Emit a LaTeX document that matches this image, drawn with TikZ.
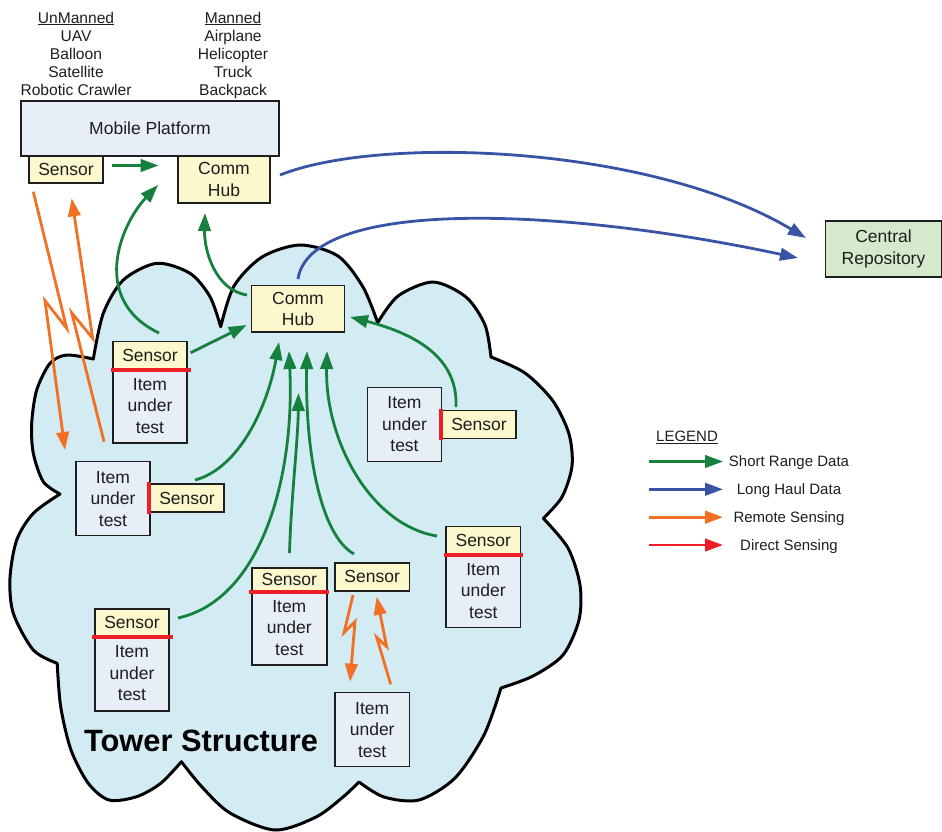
\documentclass[tikz,border=0pt]{standalone}
\usepackage{fontspec}
\setmainfont{Liberation Sans}
\usetikzlibrary{arrows.meta,calc}
\definecolor{cloudfill}{RGB}{211,235,243}
\definecolor{itemfill}{RGB}{231,238,247}
\definecolor{sensfill}{RGB}{251,248,205}
\definecolor{repofill}{RGB}{213,233,204}
\definecolor{grn}{RGB}{22,128,62}
\definecolor{blu}{RGB}{58,84,165}
\definecolor{org}{RGB}{242,112,35}
\definecolor{rdd}{RGB}{236,30,38}
\definecolor{ink}{RGB}{30,30,30}
\begin{document}
\begin{tikzpicture}[x=1pt,y=-1pt,
  txt/.style={font=\fontsize{17.5}{21.5}\selectfont, text=ink, align=center, inner sep=0pt},
  toptxt/.style={font=\fontsize{15.6}{18}\selectfont, text=ink, inner sep=0pt, anchor=base},
  legtxt/.style={font=\fontsize{15}{17}\selectfont, text=ink, inner sep=0pt, anchor=base},
  box/.style={txt, draw=ink, line width=1.5pt, minimum width=74pt},
  sens/.style={box, fill=sensfill, minimum height=27.5pt},
  itembox/.style={box, fill=itemfill, minimum height=74pt},
  conn/.style={line width=2.8pt, -{Triangle[length=18pt,width=12.5pt]}},
  shortr/.style={conn, draw=grn},
  longh/.style={conn, draw=blu},
  remote/.style={conn, draw=org, line join=miter},
  direct/.style={draw=rdd, line width=4pt},
  cloud/.style={fill=cloudfill, draw=black, line width=3pt, line join=round}
]
\useasboundingbox (0,0) rectangle (942,831);

% cloud
\filldraw[cloud]
 plot[smooth] coordinates {(220.7,326.7) (234,286) (262,257) (300,245) (338,256) (363,287) (377.7,322.7)}
 -- plot[smooth] coordinates {(377.7,322.7) (398,296) (433,282) (466,297) (485,325) (491,357)}
 -- plot[smooth] coordinates {(491,357) (525,373) (553,401) (569,434) (572,466) (562,497) (543.3,518.3)}
 -- plot[smooth] coordinates {(543.3,518.3) (568,548) (580,585) (579,620) (563,655) (533,676) (501,688)}
 -- plot[smooth] coordinates {(501,688) (484,735) (455,778) (419,800) (384,797) (359,782)}
 -- plot[smooth] coordinates {(359,782) (343,797) (316,817) (275,830) (230,813) (202,787) (181.4,761.7)}
 -- plot[smooth] coordinates {(181.4,761.7) (160.7,783.3) (136.6,796.7) (109,800) (88.3,783.3) (71,750) (60.7,706.7) (57.2,663.3)}
 -- plot[smooth] coordinates {(57.2,663.3) (33.3,650) (13.3,613.3) (10,578) (16.7,540) (33.3,513.3) (60,494)}
 -- plot[smooth] coordinates {(60,494) (43.3,481.7) (33.3,453.3) (31.7,423.3) (36.7,390) (50,363.3) (66.7,355) (93.3,359)}
 -- plot[smooth] coordinates {(93.3,359) (103.3,313.3) (123.3,280) (156.7,263.3) (190,273.3) (210,296.7) (220.7,326.7)}
 -- cycle;

% top texts
\node[toptxt] (un0) at (76,23) {\underline{UnManned}};
\node[toptxt] (un1) at (76,41.5) {UAV};
\node[toptxt] (un2) at (76,59.8) {Balloon};
\node[toptxt] (un3) at (76,77.8) {Satellite};
\node[toptxt] (un4) at (76,95.8) {Robotic Crawler};
\node[toptxt] (ma0) at (233,23) {\underline{Manned}};
\node[toptxt] (ma1) at (233,41.5) {Airplane};
\node[toptxt] (ma2) at (233,59.8) {Helicopter};
\node[toptxt] (ma3) at (233,77.8) {Truck};
\node[toptxt] (ma4) at (233,95.8) {Backpack};

% nodes
\node[box, fill=itemfill, minimum width=258pt, minimum height=55pt] (mp) at (150,128.5) {Mobile Platform};
\node[sens, minimum height=27pt] (s0) at (66,169.5) {Sensor};
\node[box, fill=sensfill, minimum width=92pt, minimum height=47pt] (ch0) at (224,179.5) {Comm\\Hub};
\node[box, fill=repofill, minimum width=116pt, minimum height=56pt] (cr) at (883.5,249) {Central\\Repository};
\node[box, fill=sensfill, minimum width=92.6pt, minimum height=46.3pt] (ch1) at (298,308.8) {Comm\\Hub};

\node[sens, minimum height=27.3pt] (s1) at (150,355.3) {Sensor};
\node[itembox, minimum height=74.3pt] (i1) at (150,405.9) {Item\\under\\test};
\node[itembox] (i2) at (113,498.7) {Item\\under\\test};
\node[sens, minimum height=28pt] (s2) at (187,498) {Sensor};
\node[itembox] (i3) at (404.5,424.5) {Item\\under\\test};
\node[sens, minimum height=27.6pt] (s3) at (479,424.5) {Sensor};
\node[sens, minimum width=74.7pt, minimum height=27.3pt] (s4) at (483.3,540.3) {Sensor};
\node[itembox, minimum width=74.7pt, minimum height=73.3pt] (i4) at (483.3,590.7) {Item\\under\\test};
\node[sens, minimum height=27pt] (s5) at (132,622.5) {Sensor};
\node[itembox, minimum height=75pt] (i5) at (132,673.5) {Item\\under\\test};
\node[sens, minimum width=75pt, minimum height=23.3pt] (s6) at (289.3,579.4) {Sensor};
\node[itembox, minimum width=75pt] (i6) at (289.3,628) {Item\\under\\test};
\node[sens, minimum width=74.3pt, minimum height=28.3pt] (s7) at (372.2,576.9) {Sensor};
\node[itembox, minimum width=74.3pt] (i7) at (372.2,729.7) {Item\\under\\test};

\node[font=\bfseries\fontsize{30.8}{34}\selectfont, text=black, inner sep=0pt, anchor=base] (tower) at (201,751) {Tower Structure};

% direct sensing marks
\draw[direct] ([xshift=-1pt]s1.south west) -- ([xshift=3pt]s1.south east);
\draw[direct] ([yshift=1pt]s2.north west) -- ([yshift=-1pt]s2.south west);
\draw[direct] ([yshift=1pt]s3.north west) -- ([yshift=-1pt]s3.south west);
\draw[direct] ([xshift=-1.5pt]s4.south west) -- ([xshift=1.5pt]s4.south east);
\draw[direct] ([xshift=-2pt]s5.south west) -- ([xshift=3pt]s5.south east);
\draw[direct] ([xshift=-2pt]s6.south west) -- ([xshift=1pt]s6.south east);

% connector end points
\coordinate (g1a) at (112,165.5); \coordinate (g1b) at (158.5,165.5);
\coordinate (g2a) at (159,333);   \coordinate (g2b) at (158,185);
\coordinate (g3a) at (247,295);   \coordinate (g3b) at (205,213);
\coordinate (g4a) at (190.7,352.7); \coordinate (g4b) at (246.7,325);
\coordinate (g5a) at (195,480);   \coordinate (g5b) at (279,342);
\coordinate (g6a) at (178,618);   \coordinate (g6b) at (289,351);
\coordinate (g7a) at (289.5,553); \coordinate (g7b) at (298.5,393);
\coordinate (g8a) at (354,554);   \coordinate (g8b) at (307,351);
\coordinate (g9a) at (437,536);   \coordinate (g9b) at (327,351);
\coordinate (g10a) at (456,407);  \coordinate (g10b) at (350,317);
\coordinate (b1a) at (280,175);   \coordinate (b1b) at (806,238);
\coordinate (b2a) at (298,279);   \coordinate (b2b) at (798,258);
\coordinate (o1a) at (33.3,191.7); \coordinate (o1b) at (65,450);
\coordinate (o2a) at (104,441.7); \coordinate (o2b) at (71.7,198.3);
\coordinate (o3a) at (353,595);   \coordinate (o3b) at (350,681.7);
\coordinate (o4a) at (390.7,684.3); \coordinate (o4b) at (376.7,596.7);

% short range data
\draw[shortr] (g1a) -- (g1b);
\draw[shortr] (g2a) .. controls (90,300) and (120,225) .. (g2b);
\draw[shortr] (g3a) .. controls (215,290) and (204,250) .. (g3b);
\draw[shortr] (g4a) -- (g4b);
\draw[shortr] (g5a) .. controls (240,468) and (268,405) .. (g5b);
\draw[shortr] (g6a) .. controls (260,600) and (295,480) .. (g6b);
\draw[shortr] (g7a) .. controls (291,500) and (298,440) .. (g7b);
\draw[shortr] (g8a) .. controls (320,535) and (305,450) .. (g8b);
\draw[shortr] (g9a) .. controls (370,525) and (325,440) .. (g9b);
\draw[shortr] (g10a) .. controls (458,360) and (420,335) .. (g10b);

% long haul data
\draw[longh] (b1a) .. controls (380,135) and (650,145) .. (b1b);
\draw[longh] (b2a) .. controls (310,200) and (550,205) .. (b2b);

% remote sensing
\draw[remote] (o1a) -- (66.7,328.3) -- (45,300.7) -- (o1b);
\draw[remote] (o2a) -- (71.7,312.7) -- (92.7,338.3) -- (o2b);
\draw[remote] (o3a) -- (344,632.7) -- (355,621.7) -- (o3b);
\draw[remote] (o4a) -- (376.7,637.3) -- (386.7,646.7) -- (o4b);

% legend
\node[legtxt] (leg) at (687,441.5) {\underline{LEGEND}};
\coordinate (l1a) at (649,461.5); \coordinate (l1b) at (723,461.5);
\coordinate (l2a) at (649,489.3); \coordinate (l2b) at (723,489.3);
\coordinate (l3a) at (649,517.2); \coordinate (l3b) at (723,517.2);
\coordinate (l4a) at (649,545);   \coordinate (l4b) at (723,545);
\draw[shortr] (l1a) -- (l1b);
\draw[longh] (l2a) -- (l2b);
\draw[remote] (l3a) -- (l3b);
\draw[conn, draw=rdd] (l4a) -- (l4b);
\node[legtxt] (lt1) at (789,466.7) {Short Range Data};
\node[legtxt] (lt2) at (789,494.5) {Long Haul Data};
\node[legtxt] (lt3) at (789,522.3) {Remote Sensing};
\node[legtxt] (lt4) at (789,550) {Direct Sensing};
\end{tikzpicture}
\end{document}
